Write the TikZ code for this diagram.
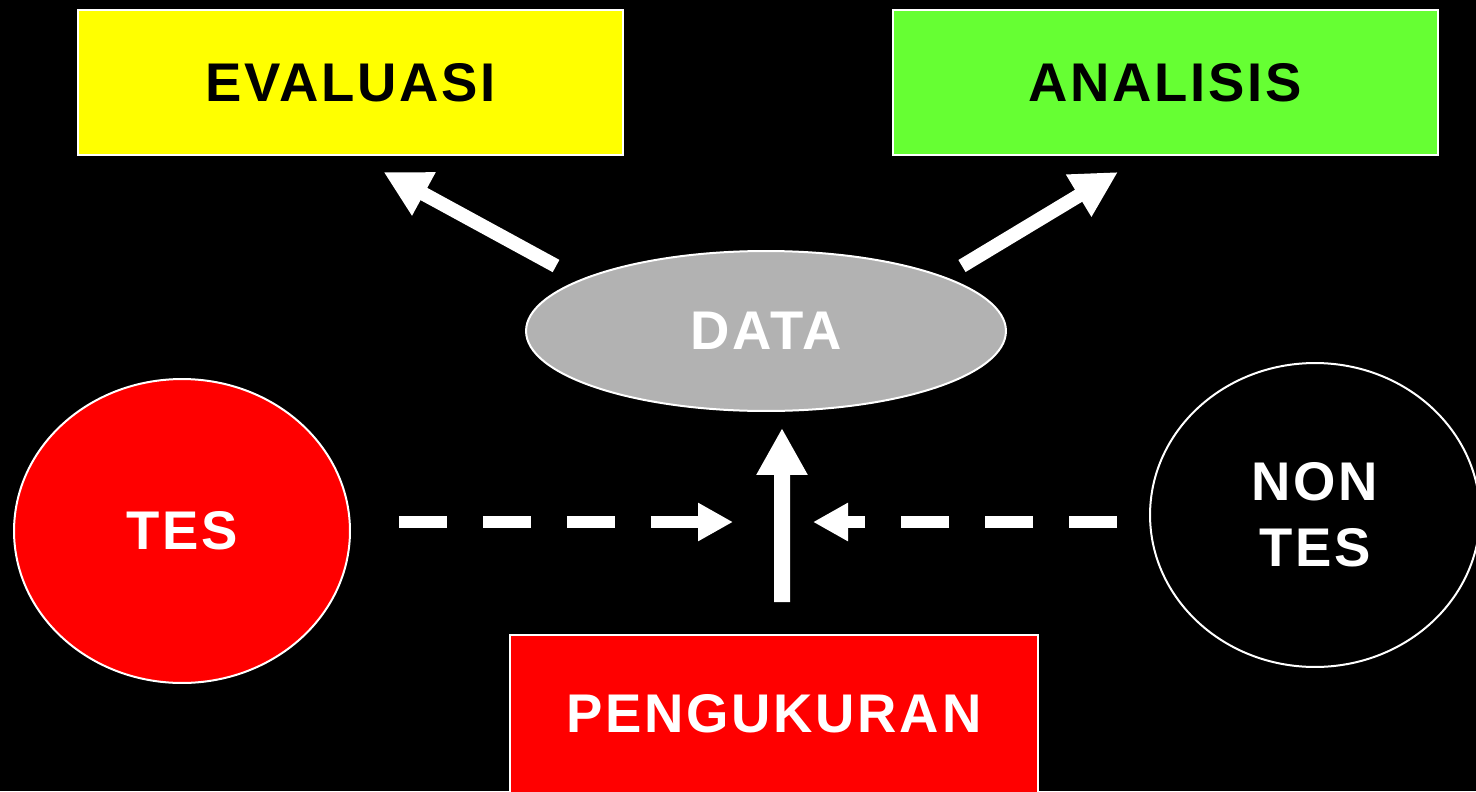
\documentclass[tikz,border=0pt]{standalone}
\usepackage{fontspec}
\setmainfont{Liberation Sans}[LetterSpace=5]
\usetikzlibrary{arrows.meta,shapes.geometric}
\definecolor{evalyellow}{HTML}{FFFF00}
\definecolor{anagreen}{HTML}{66FF33}
\definecolor{datagray}{HTML}{B2B2B2}
\definecolor{tesred}{HTML}{FF0000}
\tikzset{
  lbl/.style={font=\fontsize{31}{37.5}\selectfont\bfseries, inner sep=0pt},
  topbox/.style={lbl, rectangle, draw=white, line width=0.04cm, minimum width=10.9cm, minimum height=2.9cm, text=black},
  oval/.style={lbl, ellipse, draw=white, line width=0.04cm, text=white},
  uparr/.style={white, line width=0.32cm, -{Triangle[length=0.94cm,width=0.96cm]}},
  diagarr/.style={white, line width=0.28cm, -{Triangle[length=0.92cm,width=0.92cm]}},
  dasharr/.style={white, line width=0.24cm, dash pattern=on 0.96cm off 0.72cm, -{Triangle[length=0.7cm,width=0.72cm]}}
}
\begin{document}
\begin{tikzpicture}[x=0.02cm,y=-0.02cm]
\fill[black] (0,0) rectangle (1476,791);
\useasboundingbox (0,0) rectangle (1476,791);
\node[topbox, fill=evalyellow] (eval) at (350.5,82.5) {EVALUASI};
\node[topbox, fill=anagreen] (ana) at (1165.5,82.5) {ANALISIS};
\node[oval, fill=datagray, minimum width=9.6cm, minimum height=3.2cm] (data) at (766,331) {DATA};
\node[oval, fill=tesred, minimum width=6.72cm, minimum height=6.08cm] (tes) at (182,531) {TES};
\node[oval, fill=black, align=center, minimum width=6.6cm, minimum height=6.08cm] (nontes) at (1315,515) {NON\\TES};
\node[lbl, rectangle, draw=white, line width=0.04cm, fill=tesred, text=white, minimum width=10.56cm, minimum height=3.16cm] (peng) at (774,714) {PENGUKURAN};
\coordinate (meetL) at (733,522);
\coordinate (meetR) at (813,522);
\draw[uparr] ([xshift=0.16cm,yshift=0.64cm]peng.north) -- ([xshift=0.32cm,yshift=-0.32cm]data.south);
\draw[dasharr, shorten <=0.96cm] (tes.east |- meetL) -- (meetL);
\draw[dasharr, shorten <=0.64cm] (nontes.west |- meetR) -- (meetR);
\draw[diagarr] ([xshift=-4.2cm,yshift=1.3cm]data.center) -- ([xshift=0.66cm,yshift=-0.32cm]eval.south);
\draw[diagarr] ([xshift=3.92cm,yshift=1.3cm]data.center) -- ([xshift=-0.95cm,yshift=-0.32cm]ana.south);
\end{tikzpicture}
\end{document}
